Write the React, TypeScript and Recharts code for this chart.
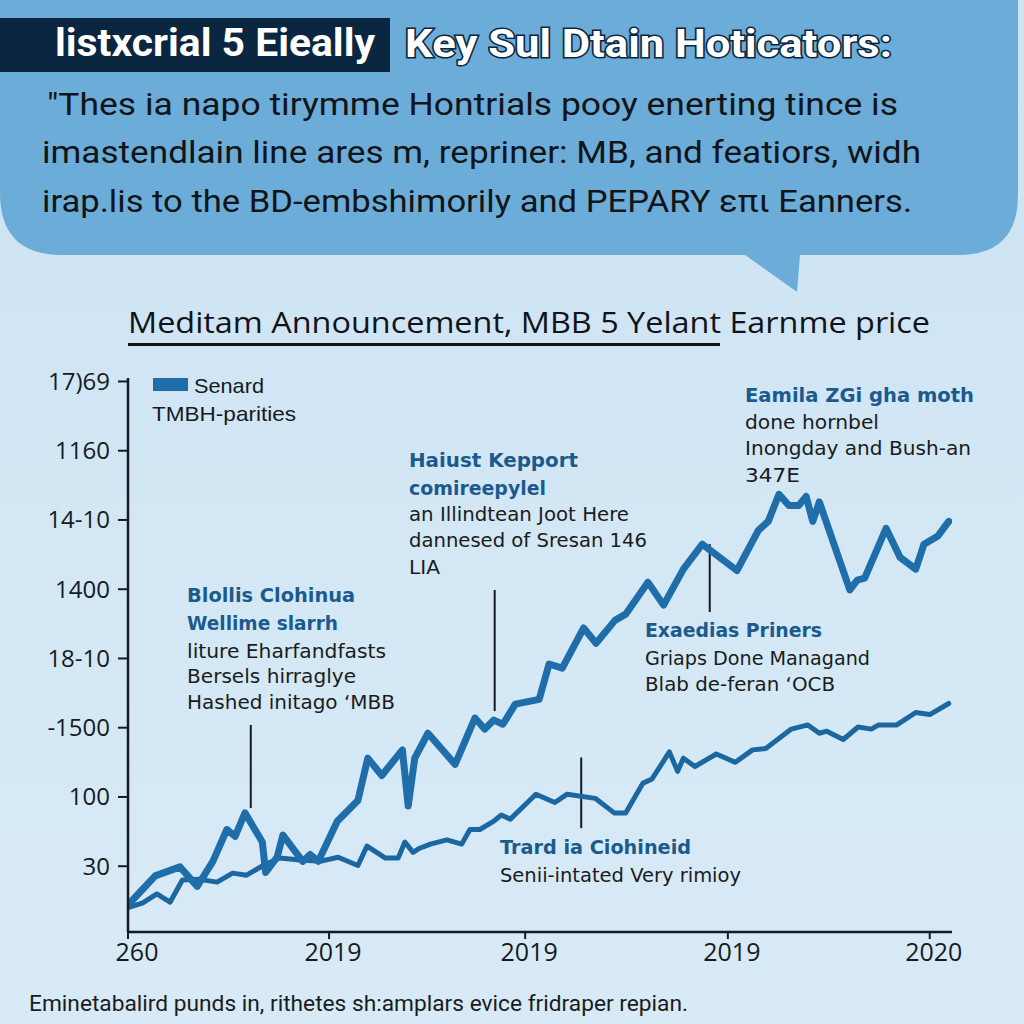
import React from 'react';
import { LineChart, Line, XAxis, YAxis, ReferenceLine } from 'recharts';

// ---------- data ----------
const xTickValues = [0, 24.4, 48.2, 72.8, 97.3];
const xTickLabels = ['260', '2019', '2019', '2019', '2020'];
const yTickValues = [0, 100, 200, 300, 400, 500, 600, 700];
const yTickLabels = ['30', '100', '-1500', '18-10', '1400', '14-10', '1160', '17)69'];

const upperT = [0, 3.3, 6.3, 8.4, 10.3, 12.0, 13.0, 14.2, 16.3, 16.7, 18.1, 18.8, 21.2, 22.1, 23.1, 25.4, 27.9, 29.1, 30.8, 33.3, 34.0, 34.8, 36.4, 39.7, 42.1, 43.3, 44.4, 45.5, 47.0, 49.9, 51.1, 52.7, 55.3, 56.8, 59.1, 60.4, 63.1, 65.0, 67.4, 69.7, 73.9, 76.5, 77.7, 79.0, 80.2, 81.4, 82.3, 83.1, 83.9, 87.6, 88.5, 89.4, 92.0, 93.7, 95.6, 96.6, 98.3, 99.6];
const upperV = [-56, -14, -1, -29, 7, 53, 43, 77, 35, -9, 13, 45, 7, 17, 7, 65, 95, 156, 131, 168, 87, 156, 192, 147, 214, 198, 211, 205, 234, 241, 292, 286, 344, 322, 355, 364, 410, 377, 429, 465, 427, 485, 498, 537, 521, 521, 534, 498, 526, 399, 413, 416, 488, 446, 429, 465, 477, 498];

const lowerT = [0.2, 1.8, 3.5, 5.1, 6.6, 8.7, 10.8, 12.7, 14.4, 16.4, 18.4, 20.9, 23.3, 25.5, 27.9, 29.0, 31.2, 32.8, 33.6, 34.6, 35.4, 36.7, 38.7, 40.5, 41.5, 42.7, 44.4, 45.3, 46.4, 49.5, 51.8, 53.3, 56.7, 59.0, 60.4, 62.5, 63.6, 65.7, 66.7, 67.4, 68.8, 71.4, 73.7, 75.8, 77.4, 80.5, 82.5, 83.9, 84.8, 86.8, 88.6, 90.2, 91.1, 93.3, 95.6, 97.3, 99.6];
const lowerV = [-59, -53, -40, -52, -20, -19, -23, -10, -13, 1, 12, 9, 7, 13, 1, 29, 12, 12, 35, 20, 26, 32, 38, 32, 53, 53, 65, 74, 68, 104, 92, 104, 98, 77, 77, 120, 126, 165, 137, 156, 144, 162, 150, 168, 170, 198, 204, 192, 195, 183, 201, 198, 204, 204, 222, 219, 235];

// leader lines in data space: [t, vTop, vBottom]
const leaderT = [14.9, 44.5, 70.6, 55.0];
const leaderTop = [204, 399, 465, 157];
const leaderBottom = [84, 224, 367, 55];

const seriesNames = ['Senard', 'TMBH-parities'];

const headerLeft = 'listxcrial 5  Eieally';
const headerRight = 'Key Sul Dtain Hoticators:';
const paragraph = [
  '"Thes ia napo tirymme Hontrials pooy enerting tince is',
  'imastendlain line ares m, repriner: MB, and featiors, widh',
  'irap.lis to the BD-embshimorily and PEPARY επι Eanners.',
];
const chartTitle = 'Meditam Announcement, MBB 5 Yelant Earnme price';
const footer = 'Eminetabalird punds in, rithetes sh:amplars evice fridraper repian.';

const annoA = ['Blollis Clohinua', 'Wellime slarrh', 'liture Eharfandfasts', 'Bersels hirraglye', 'Hashed initago \u2018MBB'];
const annoB = ['Haiust Kepport', 'comireepylel', 'an Illindtean Joot Here', 'dannesed of Sresan 146', 'LIA'];
const annoC = ['Eamila ZGi gha moth', 'done hornbel', 'Inongday and Bush-an', '347E'];
const annoD = ['Exaedias Priners', 'Griaps Done Managand', 'Blab de-feran \u2018OCB'];
const annoE = ['Trard ia Ciohineid', 'Senii-intated Very rimioy'];

// ---------- layout ----------
const upperData = upperT.map((t, i) => ({ t, v: upperV[i] }));
const lowerData = lowerT.map((t, i) => ({ t, v: lowerV[i] }));

const LINE = '#1f6eaa';
const LINE2 = '#1c679f';
const DARK = '#161a22';
const BOLDBLUE = '#1b5a8c';
const condensed = '"Liberation Sans Narrow", "Roboto", "Liberation Sans", sans-serif';
const annoFont = '"DejaVu Sans", "Verdana", sans-serif';

type Anno = { lines: string[]; x: number; ys: number[]; lens: number[]; bold: number };
const annos: Anno[] = [
  { lines: annoA, x: 187, ys: [602, 630, 658, 683, 709], lens: [168, 151, 199, 169, 208], bold: 2 },
  { lines: annoB, x: 409, ys: [467, 495, 521, 547, 574], lens: [169, 137, 220, 238, 31], bold: 2 },
  { lines: annoC, x: 745, ys: [402, 429, 455, 482], lens: [229, 134, 226, 55], bold: 1 },
  { lines: annoD, x: 645, ys: [637, 665, 691], lens: [177, 225, 190], bold: 1 },
  { lines: annoE, x: 500, ys: [854, 882], lens: [191, 241], bold: 1 },
];

const XTick = (props: any) => {
  const { x, y, payload, index } = props;
  const i = xTickValues.indexOf(payload.value);
  return (
    <text x={x + (index === 0 ? 9 : 4)} y={y + 18} textAnchor="middle" fontSize={25}
      fontFamily='"Open Sans", "Noto Sans", sans-serif' fill={DARK}>
      {xTickLabels[i >= 0 ? i : index]}
    </text>
  );
};

const Overlay = () => (
  <svg width={1024} height={1024} style={{ position: 'absolute', left: 0, top: 0 }}>
    <defs>
      <linearGradient id="bg" x1="0" y1="0" x2="0" y2="1">
        <stop offset="0" stopColor="#cde3f3" />
        <stop offset="1" stopColor="#d8eaf6" />
      </linearGradient>
    </defs>
    <rect x={0} y={0} width={1024} height={1024} fill="url(#bg)" />
    <path d="M0,0 H1018 V195 Q1018,255 958,255 H800 L797,292 L745,255 H62 Q0,255 0,193 Z" fill="#6badd8" />
    <rect x={0} y={18} width={390} height={54} fill="#0b2640" />
    <text x={55} y={56} fontSize={38} fontWeight="bold" fill="#ffffff" fontFamily={condensed}
      textLength={320} lengthAdjust="spacingAndGlyphs">{headerLeft}</text>
    <text x={405} y={57} fontSize={38} fontWeight="bold" fill="#ffffff" stroke="#0b2640" strokeWidth={3}
      paintOrder="stroke" fontFamily={condensed} textLength={487} lengthAdjust="spacingAndGlyphs">{headerRight}</text>
    {paragraph.map((s, i) => (
      <text key={i} x={[47, 42, 42][i]} y={[115, 163, 212][i]} fontSize={32} fill="#121418" fontFamily={condensed}
        textLength={[851, 879, 870][i]} lengthAdjust="spacingAndGlyphs">{s}</text>
    ))}
    <text x={128} y={333} fontSize={30} fill="#111318" fontFamily='"Open Sans", "Noto Sans", sans-serif'
      textLength={802} lengthAdjust="spacingAndGlyphs">{chartTitle}</text>
    <rect x={128} y={343} width={592} height={3} fill="#111318" />
    <rect x={153} y={378} width={35} height={13} fill={LINE} />
    <text x={194} y={393} fontSize={21} fill={DARK} fontFamily='"Liberation Sans", Arial, sans-serif'
      textLength={70} lengthAdjust="spacingAndGlyphs">{seriesNames[0]}</text>
    <text x={152} y={421} fontSize={21} fill={DARK} fontFamily='"Liberation Sans", Arial, sans-serif'
      textLength={144} lengthAdjust="spacingAndGlyphs">{seriesNames[1]}</text>
    {annos.map((a, k) => (
      <g key={k}>
        {a.lines.map((s, i) => (
          <text key={i} x={a.x} y={a.ys[i]} fontSize={20} fontWeight={i < a.bold ? 'bold' : 'normal'}
            fill={i < a.bold ? BOLDBLUE : '#1a1c20'} fontFamily={annoFont}
            textLength={a.lens[i]} lengthAdjust="spacingAndGlyphs">{s}</text>
        ))}
      </g>
    ))}
    <text x={29} y={1011} fontSize={22} fill="#1a1c20" fontFamily={condensed}
      textLength={659} lengthAdjust="spacingAndGlyphs">{footer}</text>
  </svg>
);

export default function App() {
  return (
    <div style={{ position: 'absolute', left: 0, top: 0, width: 1024, height: 1024, overflow: 'hidden' }}>
      <Overlay />
      <div style={{ position: 'absolute', left: 0, top: 0 }}>
        <LineChart width={1024} height={1024} margin={{ top: 378, right: 72, bottom: 62, left: 68 }}>
          <XAxis type="number" dataKey="t" domain={[0, 100]} ticks={xTickValues} tick={<XTick />}
            axisLine={{ stroke: DARK, strokeWidth: 2.5 }} tickLine={{ stroke: DARK, strokeWidth: 2 }}
            tickSize={7} tickMargin={4} height={30} allowDataOverflow />
          <YAxis type="number" domain={[-95, 705]} ticks={yTickValues} width={60}
            tickFormatter={(v: number) => yTickLabels[yTickValues.indexOf(v)]}
            tick={{ fill: DARK, fontSize: 24, fontFamily: '"Open Sans", "Noto Sans", sans-serif' }}
            axisLine={{ stroke: DARK, strokeWidth: 2.5 }} tickLine={{ stroke: DARK, strokeWidth: 2 }}
            tickSize={10} tickMargin={8} allowDataOverflow />
          {leaderT.map((t, i) => (
            <ReferenceLine key={i} segment={[{ x: t, y: leaderTop[i] }, { x: t, y: leaderBottom[i] }]}
              stroke={DARK} strokeWidth={2} ifOverflow="visible" />
          ))}
          <Line data={lowerData} dataKey="v" type="linear" stroke={LINE2} strokeWidth={5} dot={false}
            strokeLinejoin="round" strokeLinecap="round" isAnimationActive={false} name={seriesNames[1]} />
          <Line data={upperData} dataKey="v" type="linear" stroke={LINE} strokeWidth={7} dot={false}
            strokeLinejoin="round" strokeLinecap="round" isAnimationActive={false} name={seriesNames[0]} />
        </LineChart>
      </div>
    </div>
  );
}
